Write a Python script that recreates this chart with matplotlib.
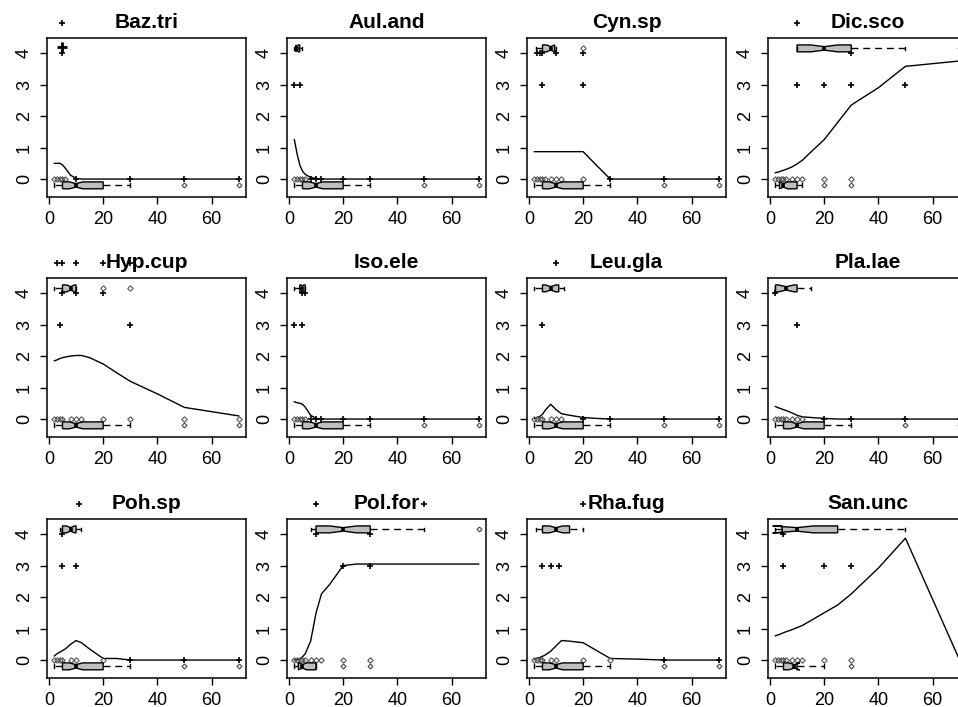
import numpy as np
import matplotlib
matplotlib.use("Agg")
import matplotlib.pyplot as plt

plt.rcParams['font.family'] = ['Liberation Sans', 'DejaVu Sans']

# species panels, in reading order
species = ["Baz.tri", "Aul.and", "Cyn.sp", "Dic.sco",
           "Hyp.cup", "Iso.ele", "Leu.gla", "Pla.lae",
           "Poh.sp", "Pol.for", "Rha.fug", "San.unc"]

# gradient values the fitted response is drawn at
line_x = [2, 3, 4, 5, 6, 8, 10, 12, 15, 20, 25, 30, 40, 50, 70]

# fitted response per species
fitted = [
    [0.5, 0.5, 0.5, 0.45, 0.35, 0.12, 0.02, 0, 0, 0, 0, 0, 0, 0, 0],
    [1.25, 0.8, 0.45, 0.25, 0.15, 0.05, 0.02, 0, 0, 0, 0, 0, 0, 0, 0],
    [0.87, 0.87, 0.87, 0.87, 0.87, 0.87, 0.87, 0.87, 0.87, 0.87, 0.43, 0, 0, 0, 0],
    [0.2, 0.22, 0.25, 0.28, 0.31, 0.38, 0.48, 0.6, 0.85, 1.25, 1.8, 2.35, 2.9, 3.58, 3.75],
    [1.85, 1.88, 1.92, 1.95, 1.97, 2.0, 2.02, 2.02, 1.95, 1.75, 1.47, 1.2, 0.8, 0.37, 0.1],
    [0.55, 0.52, 0.5, 0.47, 0.38, 0.12, 0.02, 0, 0, 0, 0, 0, 0, 0, 0],
    [0.02, 0.05, 0.08, 0.15, 0.28, 0.47, 0.3, 0.17, 0.12, 0.05, 0.02, 0, 0, 0, 0],
    [0.4, 0.36, 0.33, 0.3, 0.27, 0.2, 0.12, 0.07, 0.05, 0.02, 0, 0, 0, 0, 0],
    [0.13, 0.2, 0.25, 0.3, 0.35, 0.5, 0.62, 0.55, 0.35, 0.05, 0.05, 0, 0, 0, 0],
    [0.0, 0.02, 0.05, 0.1, 0.2, 0.6, 1.5, 2.1, 2.4, 3.0, 3.05, 3.05, 3.05, 3.05, 3.05],
    [0.03, 0.06, 0.08, 0.12, 0.16, 0.28, 0.45, 0.62, 0.6, 0.55, 0.3, 0.05, 0.03, 0, 0],
    [0.77, 0.8, 0.83, 0.87, 0.9, 0.96, 1.03, 1.1, 1.25, 1.5, 1.75, 2.1, 2.92, 3.87, 0],
]

# sites with zero abundance (open diamonds) and "+" marks on the zero line
open_zero = [
    [2, 3, 4, 5, 6], [2, 3, 4, 5, 6], [2, 3, 4, 5, 6, 8, 10, 12, 20],
    [2, 3, 4, 5, 6, 8, 10, 12, 20, 30], [2, 3, 4, 5, 8, 10, 12, 20, 30, 50, 70],
    [2, 3, 4, 5, 6], [2, 3, 4, 5, 8, 10, 12], [2, 3, 4, 5, 6, 8, 10, 12],
    [2, 3, 4, 5, 8, 10, 20], [2, 3, 4, 5, 6, 8, 10, 12, 20, 30],
    [2, 3, 4, 5, 8, 10, 20, 30], [2, 3, 4, 5, 6, 8, 10, 12, 20, 30],
]
plus_zero = [
    [10, 30, 50, 70], [8, 10, 12, 20, 30, 50, 70], [30, 50, 70], [], [],
    [8, 10, 12, 20, 30, 50, 70], [20, 30, 50, 70], [20, 30, 50, 70],
    [30, 50, 70], [], [50, 70], [],
]
# sites with abundance 3, 4 and 5
plus_three = [[], [2, 4], [5, 20], [10, 20, 30, 50], [4, 30], [2, 5], [5], [10],
              [5, 10], [20, 30], [5, 8, 11], [5, 20, 30]]
plus_four = [[5], [], [3, 4, 5, 10, 20], [30], [5, 10, 20], [5, 6], [], [2],
             [5], [10, 30], [], [5]]
plus_five = [[5], [], [], [10], [3, 5, 10, 20, 30], [], [10], [], [11], [10, 50], [20], []]
open_four = [[], [], [20], [], [20, 30], [], [], [], [], [], [], []]

# boxplots of the gradient: (whislo, q1, med, q3, whishi, notch lo, notch hi)
low_box = [
    (2, 5, 10, 20, 30, 7.5, 12.5), (2, 5, 10, 20, 30, 7.5, 12.5),
    (2, 5, 10, 20, 30, 7.5, 12.5), (2, 3.5, 5, 10, 12, 3.5, 6.5),
    (2, 5, 10, 20, 30, 7.5, 12.5), (2, 5, 10, 20, 30, 7.5, 12.5),
    (2, 5, 10, 20, 30, 7.5, 12.5), (2, 5, 10, 20, 30, 7.5, 12.5),
    (2, 5, 10, 20, 30, 7.5, 12.5), (2, 3.5, 5, 10, 10, 3.5, 6.5),
    (2, 5, 10, 20, 30, 7.5, 12.5), (2, 5, 9, 10, 20, 7, 11),
]
low_fliers = [[50, 70], [50, 70], [50, 70], [20, 30], [50, 70], [50, 70],
              [50, 70], [50, 70], [50, 70], [20, 30], [50, 70], [30]]
top_box = [
    None, (2, 2.5, 3, 4, 5, 2.5, 3.5), (2.5, 5, 8, 9.5, 10, 6.5, 9.5),
    (10, 10, 20, 30, 50, 15, 25), (2, 5, 8, 10, 10, 6.5, 9.5), (2, 4, 5, 6, 6, 4.5, 5.5),
    (2, 5, 8, 11, 13, 6, 10), (2, 2, 6, 10, 15, 3, 9), (4, 5, 8, 10, 12, 6.5, 9.5),
    (8, 10, 20, 30, 50, 15, 25), (2.5, 5, 10, 15, 20, 7.5, 12.5), (2, 4.5, 10, 25, 50, 1, 16),
]
top_fliers = [[], [], [], [70], [], [], [], [], [], [70], [], []]

W, H = 958, 707
col_left = [47, 287, 527, 768]
row_top = [38, 278, 519]
aw, ah = 199, 159

fig = plt.figure(figsize=(W / 100, H / 100), dpi=100)


def draw_box(ax, stat, fliers, ypos):
    lo, q1, med, q3, hi, clo, chi = stat
    s = dict(whislo=lo, q1=q1, med=med, q3=q3, whishi=hi, fliers=fliers, cilo=clo, cihi=chi)
    ax.bxp([s], positions=[ypos], widths=[0.22], orientation='horizontal',
           shownotches=True, patch_artist=True, manage_ticks=False,
           boxprops=dict(facecolor='#bebebe', edgecolor='black', linewidth=1.0),
           whiskerprops=dict(linestyle=(0, (5, 3.5)), linewidth=1.0),
           capprops=dict(linewidth=1.0), capwidths=[0.12],
           medianprops=dict(color='black', linewidth=2.6),
           flierprops=dict(marker='D', markersize=2.5, markerfacecolor='none',
                           markeredgecolor='#444444', markeredgewidth=0.8))


for i, name in enumerate(species):
    r, c = divmod(i, 4)
    ax = fig.add_axes([col_left[c] / W, 1 - (row_top[r] + ah) / H, aw / W, ah / H])

    ax.plot(line_x, fitted[i], color='black', lw=1.0)

    pk = dict(marker='+', ls='none', color='black', ms=5, mew=1.2)
    dk = dict(marker='D', ls='none', ms=2.8, mfc='none', mec='#555555', mew=0.8)
    if plus_zero[i]:
        ax.plot(plus_zero[i], [0] * len(plus_zero[i]), **pk)
    ax.plot(open_zero[i], [0] * len(open_zero[i]), **dk)
    if plus_three[i]:
        ax.plot(plus_three[i], [3] * len(plus_three[i]), **pk)
    if plus_four[i]:
        ax.plot(plus_four[i], [4] * len(plus_four[i]), **pk)
    if open_four[i]:
        ax.plot(open_four[i], [4.15] * len(open_four[i]), **dk)
    if plus_five[i]:
        ax.plot(plus_five[i], [4.95] * len(plus_five[i]), clip_on=False, **pk)

    draw_box(ax, low_box[i], low_fliers[i], -0.2)
    if top_box[i] is not None:
        draw_box(ax, top_box[i], top_fliers[i], 4.15)
    else:
        ax.plot(plus_four[i], [4.18] * len(plus_four[i]), marker='+', ls='none',
                color='black', ms=7, mew=2)

    ax.set_xlim(-0.72, 72.72)
    ax.set_ylim(-0.57, 4.48)
    ax.set_xticks([0, 20, 40, 60])
    ax.set_yticks([0, 1, 2, 3, 4])
    ax.tick_params(direction='out', length=5, width=1, labelsize=13, pad=5)
    ax.tick_params(axis='y', labelrotation=90)
    for lab in ax.get_yticklabels():
        lab.set_va('center')
    for sp in ax.spines.values():
        sp.set_linewidth(1.1)
    ax.set_title(name, fontweight='bold', fontsize=15, pad=7)

fig.savefig("out.png", dpi=100)
